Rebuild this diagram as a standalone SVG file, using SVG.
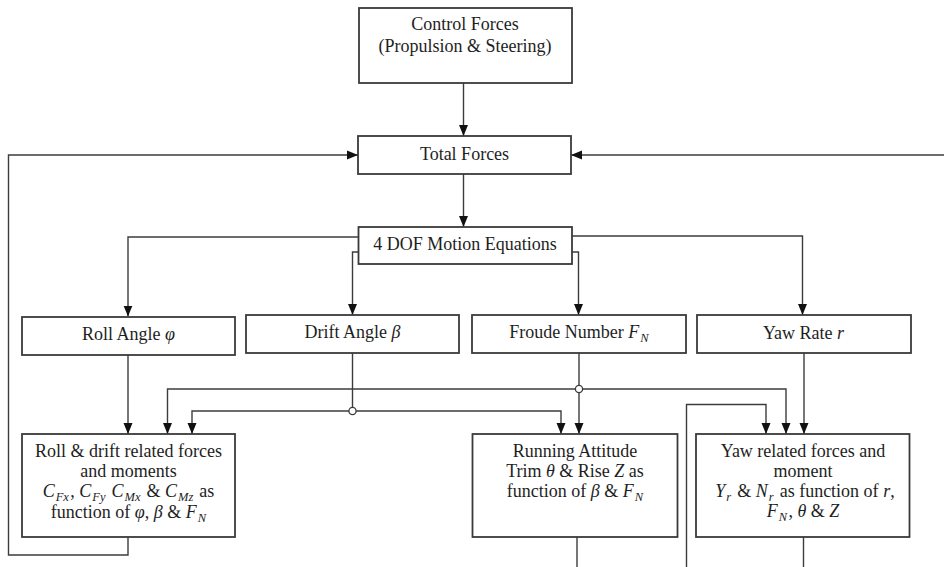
<svg xmlns="http://www.w3.org/2000/svg" width="944" height="567" viewBox="0 0 944 567">
<defs>
<style>
.box{fill:#fff;stroke:#3a3a3a;stroke-width:1.8}
.ln{fill:none;stroke:#3c3c3c;stroke-width:1.4}
.t{font-family:"Liberation Serif","Times New Roman",serif;font-size:18px;fill:#1e1e1e;text-anchor:middle}
.m{font-style:italic}
.s{font-size:12.5px;font-style:italic}
.jn{fill:#fff;stroke:#3c3c3c;stroke-width:1.3}
</style>
<marker id="ah" markerUnits="userSpaceOnUse" markerWidth="12" markerHeight="12" viewBox="0 0 12 12" refX="11" refY="6" orient="auto">
<path d="M0,1.5 L11,6 L0,10.5 Z" fill="#111"/>
</marker>
</defs>
<rect width="944" height="567" fill="#fff"/>

<g id="connectors">
<path class="ln" d="M463.5,83 V136" marker-end="url(#ah)"/>
<path class="ln" d="M463.5,174 V227" marker-end="url(#ah)"/>
<path class="ln" d="M358,237 H128 V316.5" marker-end="url(#ah)"/>
<path class="ln" d="M572,236 H802.5 V315" marker-end="url(#ah)"/>
<path class="ln" d="M358,252 H352.5 V315" marker-end="url(#ah)"/>
<path class="ln" d="M572,252 H578.5 V315" marker-end="url(#ah)"/>
<path class="ln" d="M128,355 V434" marker-end="url(#ah)"/>
<path class="ln" d="M352.5,353 V411" />
<path class="ln" d="M352.5,411 H192 V434" marker-end="url(#ah)"/>
<path class="ln" d="M352.5,411 H561 V434" marker-end="url(#ah)"/>
<path class="ln" d="M579,353 V434" marker-end="url(#ah)"/>
<path class="ln" d="M579,389 H167.5 V434" marker-end="url(#ah)"/>
<path class="ln" d="M579,389 H786 V434" marker-end="url(#ah)"/>
<path class="ln" d="M804,353 V434" marker-end="url(#ah)"/>
<path class="ln" d="M686.5,567 V404.5 H766 V434" marker-end="url(#ah)"/>
<path class="ln" d="M577,537 V567"/>
<path class="ln" d="M803.5,537 V567"/>
<path class="ln" d="M128,537 V555 H8.5 V155 H358" marker-end="url(#ah)"/>
<path class="ln" d="M944,155 H571" marker-end="url(#ah)"/>
<circle class="jn" cx="352.5" cy="411" r="3.6"/>
<circle class="jn" cx="579" cy="389" r="3.6"/>
</g>

<g id="control">
<rect class="box" x="359" y="8" width="213" height="75"/>
<text class="t" x="465" y="30">Control Forces</text>
<text class="t" x="465" y="52">(Propulsion &amp; Steering)</text>
</g>

<g id="total">
<rect class="box" x="358" y="136" width="213" height="38"/>
<text class="t" x="464.5" y="160">Total Forces</text>
</g>

<g id="dof">
<rect class="box" x="358.5" y="227" width="213.5" height="37"/>
<text class="t" x="465" y="250">4 DOF Motion Equations</text>
</g>

<g id="roll">
<rect class="box" x="22" y="317" width="213" height="38"/>
<text class="t" x="128.5" y="340">Roll Angle <tspan class="m">φ</tspan></text>
</g>

<g id="drift">
<rect class="box" x="246" y="315" width="213" height="38"/>
<text class="t" x="352.5" y="338">Drift Angle <tspan class="m">β</tspan></text>
</g>

<g id="froude">
<rect class="box" x="472" y="315" width="214" height="38"/>
<text class="t" x="579" y="338">Froude Number <tspan class="m">F</tspan><tspan class="s" dx="1" dy="4">N</tspan></text>
</g>

<g id="yawrate">
<rect class="box" x="697" y="315" width="214" height="38"/>
<text class="t" x="803.5" y="339">Yaw Rate <tspan class="m">r</tspan></text>
</g>

<g id="rolldrift">
<rect class="box" x="22" y="434" width="213" height="103"/>
<text class="t" x="128.5" y="457">Roll &amp; drift related forces</text>
<text class="t" x="128.5" y="477">and moments</text>
<text class="t" x="128.5" y="497"><tspan class="m">C</tspan><tspan class="s" dx="1" dy="4">Fx</tspan><tspan dx="1.5" dy="-4">, </tspan><tspan class="m">C</tspan><tspan class="s" dx="1" dy="4">Fy</tspan><tspan dx="1.5" dy="-4"> </tspan><tspan class="m">C</tspan><tspan class="s" dx="1" dy="4">Mx</tspan><tspan dx="1.5" dy="-4"> &amp; </tspan><tspan class="m">C</tspan><tspan class="s" dx="1" dy="4">Mz</tspan><tspan dx="1.5" dy="-4"> as</tspan></text>
<text class="t" x="128.5" y="518">function of <tspan class="m">φ</tspan>, <tspan class="m">β</tspan> &amp; <tspan class="m">F</tspan><tspan class="s" dx="1" dy="4">N</tspan></text>
</g>

<g id="running">
<rect class="box" x="472.5" y="434" width="205" height="103"/>
<text class="t" x="575" y="456.5">Running Attitude</text>
<text class="t" x="575" y="477">Trim <tspan class="m">θ</tspan> &amp; Rise <tspan class="m">Z</tspan> as</text>
<text class="t" x="575" y="497">function of <tspan class="m">β</tspan> &amp; <tspan class="m">F</tspan><tspan class="s" dx="1" dy="4">N</tspan></text>
</g>

<g id="yawforces">
<rect class="box" x="696" y="434" width="213.5" height="103"/>
<text class="t" x="803" y="457">Yaw related forces and</text>
<text class="t" x="803" y="477">moment</text>
<text class="t" x="805" y="497"><tspan class="m">Y</tspan><tspan class="s" dx="1" dy="4">r</tspan><tspan dx="1.5" dy="-4"> &amp; </tspan><tspan class="m">N</tspan><tspan class="s" dx="1" dy="4">r</tspan><tspan dx="1.5" dy="-4"> as function of </tspan><tspan class="m">r</tspan>,</text>
<text class="t" x="803" y="517"><tspan class="m">F</tspan><tspan class="s" dx="1" dy="4">N</tspan><tspan dx="1.5" dy="-4">, </tspan><tspan class="m">θ</tspan> &amp; <tspan class="m">Z</tspan></text>
</g>
</svg>
